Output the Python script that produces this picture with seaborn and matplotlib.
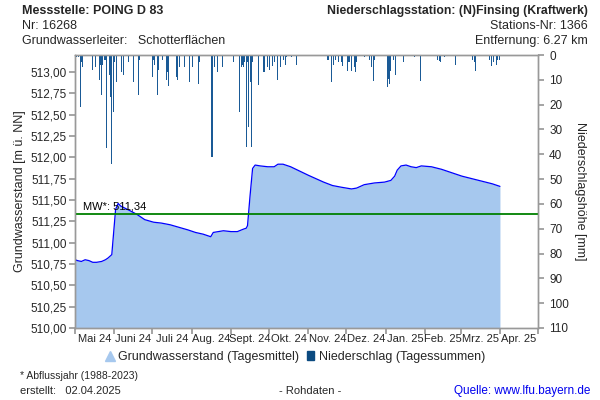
import matplotlib
matplotlib.use("Agg")
import matplotlib.pyplot as plt
from matplotlib.lines import Line2D
from matplotlib.patches import Patch
import pandas as pd
import seaborn as sns

# ---------------- data ----------------
gw_dates = ["2024-05-01", "2024-05-03", "2024-05-06", "2024-05-09", "2024-05-12", "2024-05-15",
            "2024-05-18", "2024-05-22", "2024-05-25", "2024-05-27", "2024-05-30", "2024-06-02",
            "2024-06-04", "2024-06-06", "2024-06-10", "2024-06-14", "2024-06-19", "2024-06-25",
            "2024-07-02", "2024-07-08", "2024-07-15", "2024-07-22", "2024-07-29", "2024-08-04",
            "2024-08-10", "2024-08-16", "2024-08-18", "2024-08-22", "2024-08-26", "2024-09-01",
            "2024-09-06", "2024-09-11", "2024-09-13", "2024-09-14", "2024-09-16", "2024-09-18",
            "2024-09-20", "2024-09-24", "2024-09-30", "2024-10-05", "2024-10-08", "2024-10-12",
            "2024-10-18", "2024-10-25", "2024-11-01", "2024-11-07", "2024-11-13", "2024-11-20",
            "2024-11-27", "2024-12-05", "2024-12-09", "2024-12-15", "2024-12-23", "2024-12-31",
            "2025-01-05", "2025-01-08", "2025-01-10", "2025-01-13", "2025-01-17", "2025-01-21",
            "2025-01-25", "2025-01-29", "2025-02-06", "2025-02-14", "2025-02-22", "2025-03-02",
            "2025-03-10", "2025-03-18", "2025-03-26", "2025-04-01"]
gw_values = [510.80, 510.79, 510.78, 510.80, 510.79, 510.77,
             510.77, 510.78, 510.80, 510.82, 510.86, 511.39,
             511.46, 511.43, 511.40, 511.37, 511.33, 511.27,
             511.24, 511.23, 511.21, 511.18, 511.15, 511.12,
             511.10, 511.07, 511.12, 511.13, 511.14, 511.13,
             511.13, 511.16, 511.17, 511.20, 511.55, 511.87,
             511.91, 511.90, 511.89, 511.89, 511.92, 511.92,
             511.89, 511.84, 511.79, 511.75, 511.71, 511.67,
             511.65, 511.63, 511.64, 511.68, 511.70, 511.71,
             511.73, 511.78, 511.85, 511.90, 511.91, 511.89,
             511.88, 511.90, 511.89, 511.86, 511.82, 511.78,
             511.75, 511.72, 511.69, 511.66]

rain_dates = ["2024-05-02", "2024-05-04", "2024-05-05", "2024-05-06", "2024-05-07", "2024-05-15",
              "2024-05-17", "2024-05-20", "2024-05-21", "2024-05-22", "2024-05-23", "2024-05-24",
              "2024-05-25", "2024-05-26", "2024-05-28", "2024-05-29", "2024-05-30", "2024-05-31",
              "2024-06-01", "2024-06-03", "2024-06-07", "2024-06-08", "2024-06-12", "2024-06-16",
              "2024-06-20", "2024-06-21", "2024-07-01", "2024-07-02", "2024-07-03", "2024-07-05",
              "2024-07-06", "2024-07-09", "2024-07-12", "2024-07-13", "2024-07-14", "2024-07-20",
              "2024-07-21", "2024-07-22", "2024-07-26", "2024-07-30", "2024-08-02", "2024-08-06",
              "2024-08-07", "2024-08-17", "2024-08-19", "2024-08-21", "2024-08-25", "2024-09-03",
              "2024-09-08", "2024-09-09", "2024-09-10", "2024-09-11", "2024-09-12", "2024-09-13",
              "2024-09-14", "2024-09-15", "2024-09-16", "2024-09-17", "2024-09-18", "2024-09-23",
              "2024-09-27", "2024-09-30", "2024-10-01", "2024-10-04", "2024-10-05", "2024-10-08",
              "2024-10-10", "2024-10-12", "2024-10-14", "2024-10-15", "2024-10-19", "2024-10-23",
              "2024-11-16", "2024-11-17", "2024-11-19", "2024-11-21", "2024-11-22", "2024-11-25",
              "2024-11-27", "2024-11-28", "2024-12-02", "2024-12-03", "2024-12-05", "2024-12-07",
              "2024-12-08", "2024-12-09", "2024-12-15", "2024-12-19", "2024-12-21", "2024-12-22",
              "2024-12-23", "2025-01-02", "2025-01-03", "2025-01-04", "2025-01-05", "2025-01-07",
              "2025-01-09", "2025-01-15", "2025-01-24", "2025-01-28", "2025-02-11", "2025-02-12",
              "2025-02-13", "2025-02-16", "2025-02-25", "2025-03-10", "2025-03-12", "2025-03-13",
              "2025-03-24", "2025-03-25", "2025-03-27", "2025-03-29", "2025-03-30", "2025-04-01"]
rain_mm = [1, 1, 21, 3, 5, 6,
           5, 10, 4, 16, 4, 2,
           2, 37.5, 8, 17, 44, 23,
           3, 11, 7, 8, 3, 11,
           16, 2, 9, 2, 4, 16,
           6, 2, 10, 7, 12.5, 9,
           10, 5, 5, 11, 5, 11.6,
           3, 41, 5, 7, 5, 3,
           23, 5, 4, 5, 3, 37,
           3, 29, 11, 37, 3, 12,
           7, 5, 6, 4.5, 3, 10,
           5, 2, 4, 1, 1, 4,
           2, 2, 11, 4, 2, 3,
           3, 4.5, 6.5, 3, 6.5, 5,
           7, 3, 1, 2, 5, 10.5,
           2, 13, 9.5, 11.6, 6.5, 2,
           8, 3, 1, 10.5, 2, 2.5,
           3, 1, 4, 2, 3, 6.5,
           2, 4.5, 3, 4, 2, 2]

mean_value = 511.34
month_labels = ["Mai 24", "Juni 24", "Juli 24", "Aug. 24", "Sept. 24", "Okt. 24", "Nov. 24",
                "Dez. 24", "Jan. 25", "Feb. 25", "Mrz. 25", "Apr. 25"]
gw_ticks = [510.00, 510.25, 510.50, 510.75, 511.00, 511.25, 511.50, 511.75,
            512.00, 512.25, 512.50, 512.75, 513.00]
rain_ticks = [0, 10, 20, 30, 40, 50, 60, 70, 80, 90, 100, 110]

# ---------------- style ----------------
sns.set_theme(style="white")
plt.rcParams['font.family'] = ['Liberation Sans', 'DejaVu Sans']

gw = pd.DataFrame({"date": pd.to_datetime(gw_dates), "value": gw_values})
rain = pd.DataFrame({"date": pd.to_datetime(rain_dates), "mm": rain_mm})

fill_col = "#A6C8EE"
line_col = "#0000FF"
bar_col = "#1A5A96"
spine_col = "#999999"

fig = plt.figure(figsize=(6, 4), dpi=100)
ax = fig.add_axes([75/600, 1-328/400, (538-75)/600, (328-55)/400])

ax.fill_between(gw["date"], gw["value"], 510.0, color=fill_col, linewidth=0, zorder=1)
sns.lineplot(data=gw, x="date", y="value", ax=ax, color=line_col, linewidth=0.9, zorder=3)
ax.axhline(mean_value, color="#008000", linewidth=1.3, zorder=4)
ax.text(pd.Timestamp("2024-05-07"), mean_value + 0.03, "MW*: 511,34", fontsize=8,
        color="black", va="bottom", ha="left", zorder=5)

x0 = pd.Timestamp("2024-05-01")
x1 = pd.Timestamp("2025-05-01")
ax.set_xlim(x0, x1)
ax.set_ylim(510.0, 513.2)
ax.set_yticks(gw_ticks)
ax.set_yticklabels([f"{v:.2f}".replace(".", ",") for v in gw_ticks])
ax.set_xlabel("")
ax.set_ylabel("Grundwasserstand [m ü. NN]", fontsize=9, labelpad=3)

month_starts = pd.date_range("2024-05-01", "2025-05-01", freq="MS")
ax.set_xticks(month_starts)
ax.set_xticklabels([])
mids = [a + (b - a) / 2 for a, b in zip(month_starts[:-1], month_starts[1:])]
ax.set_xticks(mids, minor=True)
ax.set_xticklabels(month_labels, minor=True)
ax.tick_params(axis="x", which="major", length=4, color=spine_col, direction="out", bottom=True)
ax.tick_params(axis="x", which="minor", length=0, labelsize=8, pad=4, bottom=True)
ax.tick_params(axis="y", length=4, color=spine_col, labelsize=8.5, direction="out", left=True, pad=2)

for s in ax.spines.values():
    s.set_color(spine_col)
    s.set_linewidth(1.0)

ax2 = ax.twinx()
ax2.bar(rain["date"], rain["mm"], width=0.8, color=bar_col, linewidth=0, zorder=2)
ax2.set_ylim(110, 0)
ax2.set_yticks(rain_ticks)
ax2.set_yticklabels([str(v) for v in rain_ticks])
ax2.tick_params(axis="y", length=4, color=spine_col, labelsize=8.5, direction="out", right=True, pad=4)
ax2.set_ylabel("Niederschlagshöhe [mm]", fontsize=9, rotation=-90, labelpad=12)
ax2.set_xlim(x0, x1)
for s in ax2.spines.values():
    s.set_color(spine_col)
    s.set_linewidth(1.0)
ax2.grid(False)
ax.grid(False)

# legend
handles = [Line2D([0], [0], marker="^", color="none", markerfacecolor=fill_col,
                  markeredgecolor=fill_col, markersize=7),
           Patch(facecolor="#0B4A80", edgecolor="#0B4A80")]
fig.legend(handles, ["Grundwasserstand (Tagesmittel)", "Niederschlag (Tagessummen)"],
           loc="center", bbox_to_anchor=(0.493, 1-357/400), ncol=2, frameon=False,
           fontsize=9, handlelength=0.6, handletextpad=0.4, columnspacing=0.6)

# header
fig.text(22/600, 1-11/400, "Messstelle: POING D 83", fontsize=9, fontweight="bold", va="center", ha="left")
fig.text(22/600, 1-26/400, "Nr: 16268", fontsize=9, va="center", ha="left")
fig.text(22/600, 1-41/400, "Grundwasserleiter:   Schotterflächen", fontsize=9, va="center", ha="left")
fig.text(588/600, 1-11/400, "Niederschlagsstation: (N)Finsing (Kraftwerk)", fontsize=8.8,
         fontweight="bold", va="center", ha="right")
fig.text(588/600, 1-26/400, "Stations-Nr: 1366", fontsize=9, va="center", ha="right")
fig.text(588/600, 1-41/400, "Entfernung: 6.27 km", fontsize=9, va="center", ha="right")

# footer
fig.text(20/600, 1-376/400, "* Abflussjahr (1988-2023)", fontsize=7.5, va="center", ha="left")
fig.text(20/600, 1-391/400, "erstellt:   02.04.2025", fontsize=8, va="center", ha="left")
fig.text(310/600, 1-391/400, "- Rohdaten -", fontsize=8, va="center", ha="center")
fig.text(590/600, 1-391/400, "Quelle: www.lfu.bayern.de", fontsize=8.5, color="#0000EE",
         va="center", ha="right")

fig.savefig("out.png", dpi=100)
